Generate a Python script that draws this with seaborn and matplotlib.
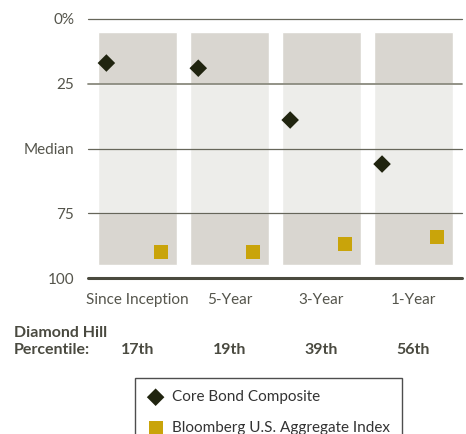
import numpy as np
import pandas as pd
import matplotlib
matplotlib.use("Agg")
import matplotlib.pyplot as plt
import seaborn as sns

periods = ["Since Inception", "5-Year", "3-Year", "1-Year"]
composite = [17, 19, 39, 56]
benchmark = [90, 90, 87, 84]
percentile_labels = ["17th", "19th", "39th", "56th"]
ytick_vals = [0, 25, 50, 75, 100]
ytick_labels = ["0%", "25", "Median", "75", "100"]

sns.set_theme(style="white")
plt.rcParams["font.family"] = ["Lato", "DejaVu Sans"]

txt = "#55554c"
dark = "#20240f"
gold = "#c9a40a"

fig = plt.figure(figsize=(4.66, 4.34), dpi=100)
ax = fig.add_axes([88 / 466, 1 - 278 / 434, 374 / 466, 259 / 434])

xs = np.arange(len(periods))

# quartile bands
bw = 0.86
ax.bar(xs, 90, bottom=5, width=bw, color="#d9d6d0", zorder=0)
ax.bar(xs, 50, bottom=25, width=bw, color="#ededea", zorder=0)

# grid lines
for v in [0, 50, 75]:
    ax.axhline(v, color="#66665a", lw=0.9, zorder=1, clip_on=False)
ax.axhline(25, color="#8a8a7e", lw=1.3, zorder=1, clip_on=False)
ax.axhline(100, color="#4a4a3e", lw=2.2, zorder=1, clip_on=False)

df = pd.DataFrame({"x": xs, "comp": composite, "bench": benchmark})
sns.scatterplot(x=df["x"] - 0.34, y=df["comp"], marker="D", s=80, color=dark,
                edgecolor="none", ax=ax, zorder=3, label="Core Bond Composite")
sns.scatterplot(x=df["x"] + 0.255, y=df["bench"], marker="s", s=100, color=gold,
                edgecolor="none", ax=ax, zorder=3, label="Bloomberg U.S. Aggregate Index")

ax.set_xlim(-0.54, 3.53)
ax.set_ylim(100, 0)
ax.set_xticks(xs, periods)
ax.set_yticks(ytick_vals, ytick_labels)
ax.tick_params(axis="both", length=0, labelsize=11, colors=txt)
ax.tick_params(axis="x", pad=11)
ax.tick_params(axis="y", pad=10)
ax.set_xlabel("")
ax.set_ylabel("")
for s in ax.spines.values():
    s.set_visible(False)

# percentile row
fig.text(14 / 466, 1 - 333 / 434, "Diamond Hill", fontsize=11.5, fontweight="bold",
         color="#4a4a40", va="center", ha="left")
fig.text(14 / 466, 1 - 350 / 434, "Percentile:", fontsize=11.5, fontweight="bold",
         color="#4a4a40", va="center", ha="left")
for x, lab in zip(xs, percentile_labels):
    ax.text(x, 1 - (350 - 19) / 259, lab, transform=ax.get_xaxis_transform(),
            fontsize=11.5, fontweight="bold", color="#4a4a40", ha="center", va="center")

h, l = ax.get_legend_handles_labels()
ax.get_legend().remove()
leg = fig.legend(h, l, loc="upper left", bbox_to_anchor=(135 / 466, 1 - 378 / 434),
                 frameon=True, fancybox=False, edgecolor="#222222", fontsize=11,
                 labelspacing=1.1, handletextpad=0.5, borderpad=0.8, handlelength=1.1,
                 labelcolor="#333333", borderaxespad=0)
leg.get_frame().set_linewidth(1.0)

fig.savefig("out.png", dpi=100)
